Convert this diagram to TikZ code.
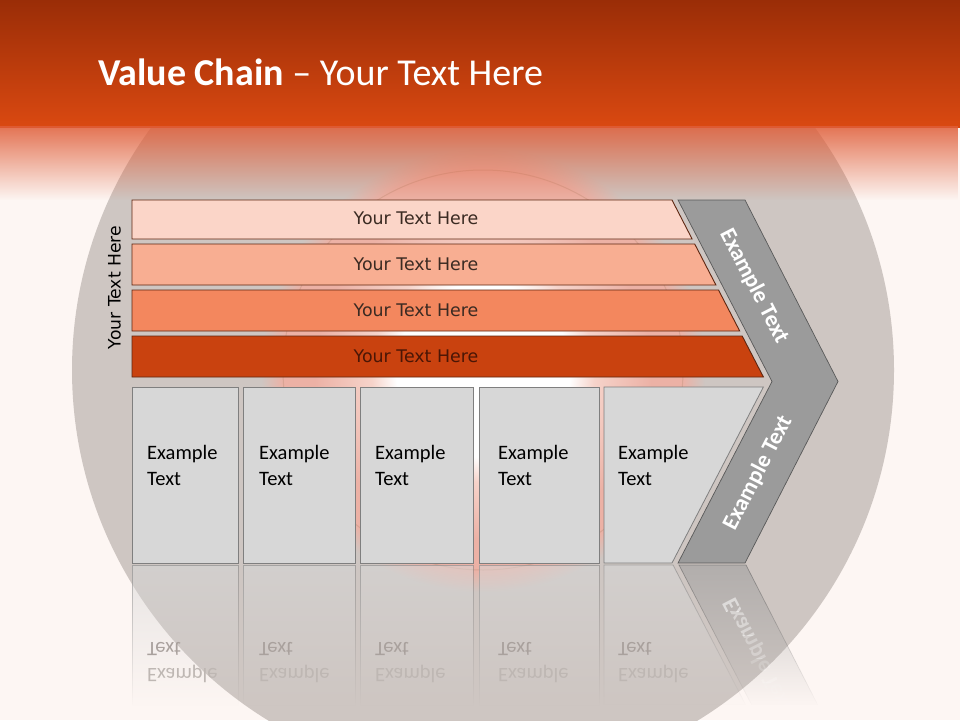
\documentclass[tikz,border=0pt]{standalone}
\usepackage{fontspec}
\setmainfont{Carlito}
\newfontfamily\dvfont{DejaVu Sans}
\usetikzlibrary{fadings}
\definecolor{pagebg}{HTML}{FDF6F3}
\definecolor{circbg}{HTML}{CEC6C2}
\definecolor{hdrTop}{HTML}{9A2D07}
\definecolor{hdrBot}{HTML}{DA4911}
\definecolor{hdrFade}{HTML}{DF5D38}
\definecolor{pinkIn}{HTML}{F6D3CA}
\definecolor{pinkOut}{HTML}{ECB1A5}
\definecolor{ringcol}{HTML}{D9A494}
\definecolor{barA}{HTML}{FBD5C8}
\definecolor{barB}{HTML}{F8AE92}
\definecolor{barC}{HTML}{F3875E}
\definecolor{barD}{HTML}{C9420F}
\definecolor{barline}{HTML}{5E2610}
\definecolor{bartxt}{HTML}{3A2A22}
\definecolor{bartxtD}{HTML}{4A1606}
\definecolor{boxfill}{HTML}{D7D7D7}
\definecolor{boxline}{HTML}{7F7F7F}
\definecolor{chevfill}{HTML}{9B9B9B}
\definecolor{chevline}{HTML}{595959}
\definecolor{reflA}{HTML}{A9A19D}
\definecolor{reflB}{HTML}{BEB7B3}
\tikzfading[name=hfade, top color=transparent!15, bottom color=transparent!100]
\tikzfading[name=reflF, top color=transparent!45, bottom color=transparent!100]
\pgfdeclareradialshading{diskshade}{\pgfpoint{0bp}{0bp}}{color(0bp)=(white); color(9.8bp)=(white); color(12.6bp)=(pinkIn); color(19bp)=(pinkOut); color(22.5bp)=(pinkOut); color(25bp)=(circbg); color(50bp)=(circbg)}
\begin{document}
\begin{tikzpicture}[x=1pt, y=-1pt,
  barst/.style={draw=barline, line width=0.9pt},
  bartext/.style={font=\dvfont\fontsize{17.4}{20}\selectfont, text=bartxt, inner sep=0pt},
  boxst/.style={fill=boxfill, draw=boxline, line width=0.8pt},
  boxtxt/.style={font=\fontsize{20.5}{26}\selectfont, align=left, anchor=west, inner sep=0pt, text=black},
  chevst/.style={fill=chevfill, draw=chevline, line width=0.7pt},
  chevtxt/.style={font=\bfseries\fontsize{23}{26}\selectfont, text=white, inner sep=0pt}]
\useasboundingbox (0,0) rectangle (960,720);
% background
\fill[pagebg] (0,0) rectangle (960,720);
\fill[circbg] (483,370) circle (411);
\shade[shading=diskshade] (483,370) circle (222);
\draw[ringcol, line width=1pt] (483,370) circle (200);
% header
\shade[top color=hdrTop, bottom color=hdrBot] (0,0) rectangle (960,127);
\fill[hdrFade, path fading=hfade] (0,126.5) rectangle (960,200);
\node[anchor=base west, inner sep=0pt, text=white, font=\fontsize{38}{42}\selectfont] (title) at (98,85) {\textbf{Value Chain} – Your Text Here};
% vertical label
\node[font=\dvfont\fontsize{17.2}{20}\selectfont, rotate=90, inner sep=0pt, text=black] (side) at (114.5,287.5) {Your Text Here};
% bars
\filldraw[barst, fill=barA] (132,200) -- (672,200) -- (692.1,239) -- (132,239) -- cycle;
\filldraw[barst, fill=barB] (132,244) -- (694.7,244) -- (715.9,285) -- (132,285) -- cycle;
\filldraw[barst, fill=barC] (132,290) -- (718.5,290) -- (739.7,331) -- (132,331) -- cycle;
\filldraw[barst, fill=barD] (132,336) -- (742.2,336) -- (763.4,377) -- (132,377) -- cycle;
\node[bartext] (l1) at (416,218.5) {Your Text Here};
\node[bartext] (l2) at (416,264) {Your Text Here};
\node[bartext] (l3) at (416,310) {Your Text Here};
\node[bartext, text=bartxtD] (l4) at (416,356) {Your Text Here};
% boxes
\filldraw[boxst] (132,387) rectangle (238,563);
\filldraw[boxst] (243,387) rectangle (355,563);
\filldraw[boxst] (360,387) rectangle (473,563);
\filldraw[boxst] (479,387) rectangle (599,563);
\filldraw[boxst] (604,387) -- (763.4,387) -- (672,563) -- (604,563) -- cycle;
\node[boxtxt] (ta) at (147,465) {Example\\Text};
\node[boxtxt] (tb) at (259,465) {Example\\Text};
\node[boxtxt] (tc) at (375,465) {Example\\Text};
\node[boxtxt] (td) at (498,465) {Example\\Text};
\node[boxtxt] (te) at (618,465) {Example\\Text};
% chevron
\filldraw[chevst] (678,200) -- (745,200) -- (838,381.5) -- (745,563) -- (678,563) -- (772,381.5) -- cycle;
\node[chevtxt, rotate=-62.7] (ca) at (754,286) {Example Text};
\node[chevtxt, rotate=62.7] (cb) at (758,473) {Example Text};
% reflection: shapes
\filldraw[boxst, path fading=reflF] (132,565) rectangle (238,705);
\filldraw[boxst, path fading=reflF] (243,565) rectangle (355,705);
\filldraw[boxst, path fading=reflF] (360,565) rectangle (473,705);
\filldraw[boxst, path fading=reflF] (479,565) rectangle (599,705);
\filldraw[boxst, path fading=reflF] (604,565) -- (673,565) -- (745.7,705) -- (604,705) -- cycle;
\filldraw[chevst, path fading=reflF] (679,565) -- (746,565) -- (817.8,705) -- (751.7,705) -- cycle;
% reflection: texts
\begin{scope}[shift={(0,1128)}, yscale=-1, every node/.append style={transform shape}]
  \node[boxtxt] (ra) at (147,465) {\textcolor{reflB}{Example}\\\textcolor{reflA}{Text}};
  \node[boxtxt] (rb) at (259,465) {\textcolor{reflB}{Example}\\\textcolor{reflA}{Text}};
  \node[boxtxt] (rc) at (375,465) {\textcolor{reflB}{Example}\\\textcolor{reflA}{Text}};
  \node[boxtxt] (rd) at (498,465) {\textcolor{reflB}{Example}\\\textcolor{reflA}{Text}};
  \node[boxtxt] (re) at (618,465) {\textcolor{reflB}{Example}\\\textcolor{reflA}{Text}};
\end{scope}
\foreach \k/\op in {0/0.62,1/0.52,2/0.41,3/0.3,4/0.19,5/0.08}{
  \begin{scope}
    \clip (600,565+\k*23.4) rectangle (860,565+\k*23.4+23.4);
    \begin{scope}[shift={(0,1128)}, yscale=-1]
      \node[chevtxt, transform shape, rotate=62.7, opacity=\op] (rm\k) at (758,473) {Example Text};
    \end{scope}
  \end{scope}
}
\end{tikzpicture}
\end{document}
